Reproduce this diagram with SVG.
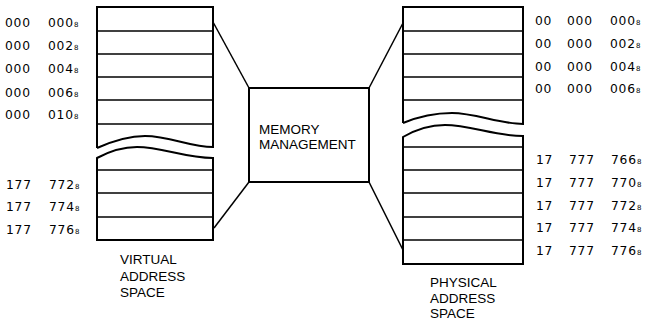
<svg xmlns="http://www.w3.org/2000/svg" width="649" height="320" viewBox="0 0 649 320">
<style>
.frame{fill:none;stroke:#000;stroke-width:2;stroke-linejoin:miter}
.div{stroke:#000;stroke-width:1.4}
.conn{stroke:#000;stroke-width:1.5;fill:none}
.addr{font-family:"DejaVu Sans",sans-serif;font-size:12.3px;letter-spacing:0.8px;fill:#000}
.sub{font-size:7px;letter-spacing:0}
.lbl{font-family:"Liberation Sans",Arial,sans-serif;font-size:13.5px;fill:#000}
</style>
<rect width="649" height="320" fill="#fff"/>

<g id="connectors">
  <line class="conn" x1="213" y1="22" x2="249" y2="88"/>
  <line class="conn" x1="214" y1="228" x2="249" y2="182"/>
  <line class="conn" x1="369" y1="88" x2="403" y2="23"/>
  <line class="conn" x1="369" y1="182" x2="403" y2="250"/>
</g>

<g id="virtual-space">
  <path class="frame" d="M97,148 V7 H213 V147 C190,147 170,136 145,136 C130,136 115,140 97,148"/>
  <line class="div" x1="97" y1="31" x2="213" y2="31"/>
  <line class="div" x1="97" y1="54" x2="213" y2="54"/>
  <line class="div" x1="97" y1="77" x2="213" y2="77"/>
  <line class="div" x1="97" y1="100" x2="213" y2="100"/>
  <line class="div" x1="97" y1="124" x2="213" y2="124"/>
  <path class="frame" d="M97,158 C110,151 122,147 137,147 C162,147 185,158 213,158 V240 H97 Z"/>
  <line class="div" x1="97" y1="170" x2="213" y2="170"/>
  <line class="div" x1="97" y1="193" x2="213" y2="193"/>
  <line class="div" x1="97" y1="217" x2="213" y2="217"/>
  <text class="addr" y="26.5"><tspan x="5">000</tspan><tspan x="48">000</tspan><tspan class="sub">8</tspan></text>
  <text class="addr" y="50"><tspan x="5">000</tspan><tspan x="48">002</tspan><tspan class="sub">8</tspan></text>
  <text class="addr" y="73"><tspan x="5">000</tspan><tspan x="48">004</tspan><tspan class="sub">8</tspan></text>
  <text class="addr" y="96.5"><tspan x="5">000</tspan><tspan x="48">006</tspan><tspan class="sub">8</tspan></text>
  <text class="addr" y="118.5"><tspan x="5">000</tspan><tspan x="48">010</tspan><tspan class="sub">8</tspan></text>
  <text class="addr" y="188.5"><tspan x="6">177</tspan><tspan x="49">772</tspan><tspan class="sub">8</tspan></text>
  <text class="addr" y="211"><tspan x="6">177</tspan><tspan x="49">774</tspan><tspan class="sub">8</tspan></text>
  <text class="addr" y="233.5"><tspan x="6">177</tspan><tspan x="49">776</tspan><tspan class="sub">8</tspan></text>
  <text class="lbl" x="120" y="264"><tspan x="120">VIRTUAL</tspan><tspan x="120" dy="16.5">ADDRESS</tspan><tspan x="120" dy="16.5">SPACE</tspan></text>
</g>

<g id="memory-management">
  <rect class="frame" x="249" y="88" width="120" height="94"/>
  <text class="lbl" x="259" y="133.5"><tspan x="259">MEMORY</tspan><tspan x="259" dy="15">MANAGEMENT</tspan></text>
</g>

<g id="physical-space">
  <path class="frame" d="M403,123 V7 H523 V124 C500,124 475,113 452,113 C435,113 420,116 403,123"/>
  <line class="div" x1="403" y1="31" x2="523" y2="31"/>
  <line class="div" x1="403" y1="54" x2="523" y2="54"/>
  <line class="div" x1="403" y1="77" x2="523" y2="77"/>
  <line class="div" x1="403" y1="100" x2="523" y2="100"/>
  <path class="frame" d="M403,137 C415,130 428,125 445,125 C470,125 495,136 523,136 V264 H403 Z"/>
  <line class="div" x1="403" y1="147" x2="523" y2="147"/>
  <line class="div" x1="403" y1="170" x2="523" y2="170"/>
  <line class="div" x1="403" y1="193" x2="523" y2="193"/>
  <line class="div" x1="403" y1="217" x2="523" y2="217"/>
  <line class="div" x1="403" y1="240" x2="523" y2="240"/>
  <text class="addr" y="25"><tspan x="535">00</tspan><tspan x="567">000</tspan><tspan x="610">000</tspan><tspan class="sub">8</tspan></text>
  <text class="addr" y="47.7"><tspan x="535">00</tspan><tspan x="567">000</tspan><tspan x="610">002</tspan><tspan class="sub">8</tspan></text>
  <text class="addr" y="71"><tspan x="535">00</tspan><tspan x="567">000</tspan><tspan x="610">004</tspan><tspan class="sub">8</tspan></text>
  <text class="addr" y="92.7"><tspan x="535">00</tspan><tspan x="567">000</tspan><tspan x="610">006</tspan><tspan class="sub">8</tspan></text>
  <text class="addr" y="164"><tspan x="536">17</tspan><tspan x="569">777</tspan><tspan x="611">766</tspan><tspan class="sub">8</tspan></text>
  <text class="addr" y="187"><tspan x="536">17</tspan><tspan x="569">777</tspan><tspan x="611">770</tspan><tspan class="sub">8</tspan></text>
  <text class="addr" y="210"><tspan x="536">17</tspan><tspan x="569">777</tspan><tspan x="611">772</tspan><tspan class="sub">8</tspan></text>
  <text class="addr" y="232"><tspan x="536">17</tspan><tspan x="569">777</tspan><tspan x="611">774</tspan><tspan class="sub">8</tspan></text>
  <text class="addr" y="255"><tspan x="536">17</tspan><tspan x="569">777</tspan><tspan x="611">776</tspan><tspan class="sub">8</tspan></text>
  <text class="lbl" x="430" y="287"><tspan x="430">PHYSICAL</tspan><tspan x="430" dy="15.5">ADDRESS</tspan><tspan x="430" dy="15.5">SPACE</tspan></text>
</g>
</svg>
